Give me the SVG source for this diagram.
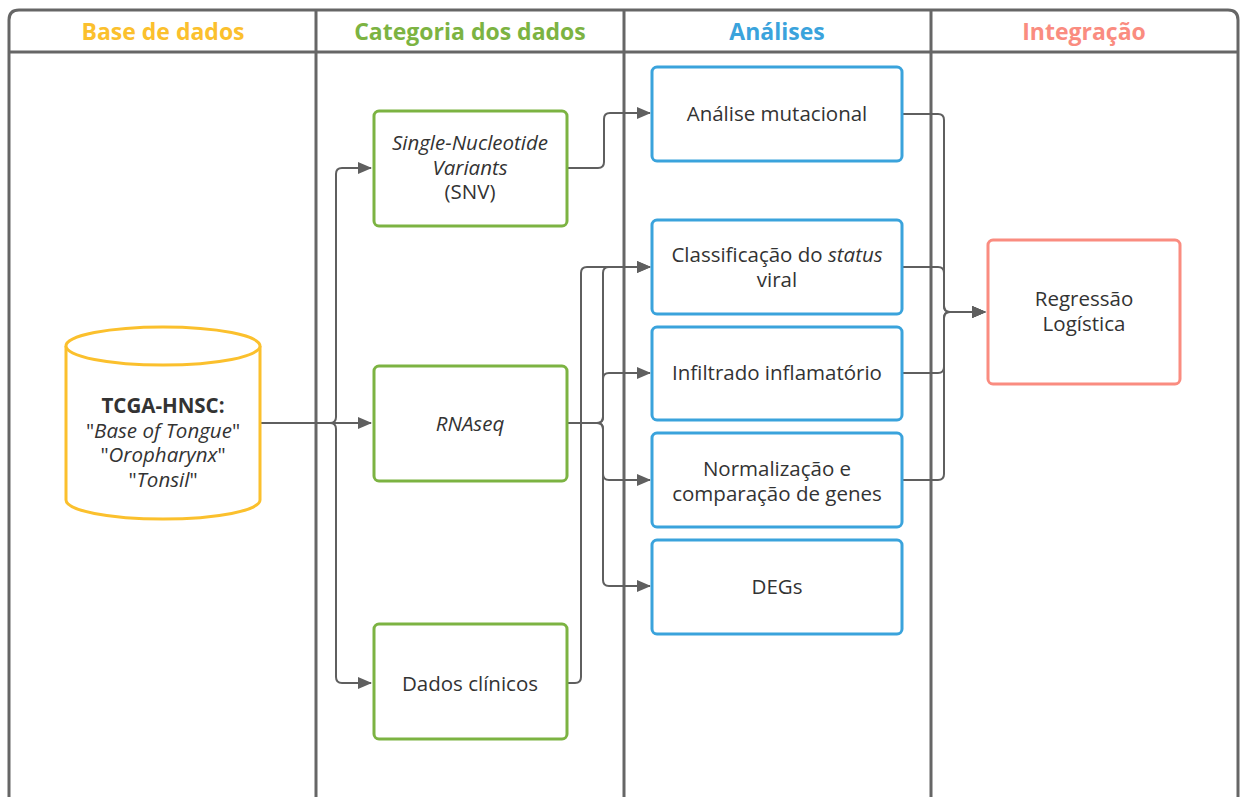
<svg xmlns="http://www.w3.org/2000/svg" width="1240" height="797" viewBox="0 0 1240 797">
  <style>
    .frame { fill: none; stroke: #666666; stroke-width: 3; }
    .hdr { font-family: "Open Sans", "Liberation Sans", sans-serif; font-weight: 700; font-size: 23px; text-anchor: middle; }
    .lbl { font-family: "Open Sans", "Liberation Sans", sans-serif; font-size: 20.5px; fill: #333333; text-anchor: middle; }
    .it { font-style: italic; }
    .bold { font-weight: 700; }
    .box { fill: #ffffff; stroke-width: 3; }
    .green { stroke: #7cb342; }
    .blue { stroke: #3aa3dc; }
    .salmon { stroke: #fa8c80; }
    .conn { fill: none; stroke: #5f5f5f; stroke-width: 2; }
  </style>
  <defs>
    <marker id="arrow" markerUnits="userSpaceOnUse" markerWidth="14" markerHeight="12" refX="13" refY="6" orient="auto">
      <path d="M0,0 L14,6 L0,12 z" fill="#5f5f5f"/>
    </marker>
  </defs>

  <rect width="1240" height="797" fill="#ffffff"/>

  <!-- swimlane frame -->
  <g id="lanes">
    <path class="frame" d="M9,800 V20 Q9,10 19,10 H1228 Q1238,10 1238,20 V800"/>
    <line class="frame" x1="9" y1="52" x2="1238" y2="52"/>
    <line class="frame" x1="316" y1="10" x2="316" y2="800"/>
    <line class="frame" x1="624" y1="10" x2="624" y2="800"/>
    <line class="frame" x1="931" y1="10" x2="931" y2="800"/>
    <text class="hdr" x="163" y="40" fill="#fbc02d">Base de dados</text>
    <text class="hdr" x="470" y="40" fill="#7cb342">Categoria dos dados</text>
    <text class="hdr" x="777" y="40" fill="#3aa3dc">Análises</text>
    <text class="hdr" x="1084" y="40" fill="#fa8c80">Integração</text>
  </g>

  <!-- connectors -->
  <g id="connectors">
    <path class="conn" d="M260,423 H371" marker-end="url(#arrow)"/>
    <path class="conn" d="M330,423 Q336,423 336,417 V174 Q336,168 342,168 H371" marker-end="url(#arrow)"/>
    <path class="conn" d="M330,423 Q336,423 336,429 V677 Q336,683 342,683 H371" marker-end="url(#arrow)"/>

    <path class="conn" d="M567,168 H598 Q604,168 604,162 V119 Q604,113 610,113 H650" marker-end="url(#arrow)"/>

    <path class="conn" d="M567,423 H597 Q603,423 603,417 V273 Q603,267 609,267 H650" marker-end="url(#arrow)"/>
    <path class="conn" d="M597,423 Q603,423 603,417 V379 Q603,373 609,373 H650" marker-end="url(#arrow)"/>
    <path class="conn" d="M597,423 Q603,423 603,429 V474 Q603,480 609,480 H650" marker-end="url(#arrow)"/>
    <path class="conn" d="M597,423 Q603,423 603,429 V580 Q603,586 609,586 H650" marker-end="url(#arrow)"/>

    <path class="conn" d="M567,683 H575 Q581,683 581,677 V273 Q581,267 587,267 H650" marker-end="url(#arrow)"/>

    <path class="conn" d="M902,114 H938 Q944,114 944,120 V306 Q944,312 950,312 H985" marker-end="url(#arrow)"/>
    <path class="conn" d="M902,267 H938 Q944,267 944,273 V306 Q944,312 950,312 H985" marker-end="url(#arrow)"/>
    <path class="conn" d="M902,373 H938 Q944,373 944,367 V318 Q944,312 950,312 H985" marker-end="url(#arrow)"/>
    <path class="conn" d="M902,480 H938 Q944,480 944,474 V318 Q944,312 950,312 H985" marker-end="url(#arrow)"/>
  </g>

  <!-- database -->
  <g id="tcga">
    <path d="M66,346 V500 A97,19 0 0 0 260,500 V346" fill="#ffffff" stroke="#fbc02d" stroke-width="3"/>
    <ellipse cx="163" cy="346" rx="97" ry="19" fill="#ffffff" stroke="#fbc02d" stroke-width="3"/>
    <text class="lbl" x="163" y="413"><tspan class="bold">TCGA-HNSC:</tspan><tspan x="163" dy="25">"</tspan><tspan class="it">Base of Tongue</tspan><tspan>"</tspan><tspan x="163" dy="24">"</tspan><tspan class="it">Oropharynx</tspan><tspan>"</tspan><tspan x="163" dy="25">"</tspan><tspan class="it">Tonsil</tspan><tspan>"</tspan></text>
  </g>

  <!-- data categories -->
  <g id="snv">
    <rect class="box green" x="374" y="111" width="193" height="115" rx="5"/>
    <text class="lbl" x="470" y="150"><tspan class="it">Single-Nucleotide</tspan><tspan class="it" x="470" dy="25">Variants</tspan><tspan x="470" dy="24">(SNV)</tspan></text>
  </g>
  <g id="rnaseq">
    <rect class="box green" x="374" y="366" width="193" height="115" rx="5"/>
    <text class="lbl it" x="470" y="431">RNAseq</text>
  </g>
  <g id="clinicos">
    <rect class="box green" x="374" y="624" width="193" height="115" rx="5"/>
    <text class="lbl" x="470" y="691">Dados clínicos</text>
  </g>

  <!-- analyses -->
  <g id="mutacional">
    <rect class="box blue" x="652" y="67" width="250" height="94" rx="5"/>
    <text class="lbl" x="777" y="121">Análise mutacional</text>
  </g>
  <g id="status-viral">
    <rect class="box blue" x="652" y="220" width="250" height="94" rx="5"/>
    <text class="lbl" x="777" y="262">Classificação do <tspan class="it">status</tspan><tspan x="777" dy="25">viral</tspan></text>
  </g>
  <g id="infiltrado">
    <rect class="box blue" x="652" y="327" width="250" height="93" rx="5"/>
    <text class="lbl" x="777" y="380">Infiltrado inflamatório</text>
  </g>
  <g id="normalizacao">
    <rect class="box blue" x="652" y="433" width="250" height="94" rx="5"/>
    <text class="lbl" x="777" y="476">Normalização e<tspan x="777" dy="25">comparação de genes</tspan></text>
  </g>
  <g id="degs">
    <rect class="box blue" x="652" y="540" width="250" height="94" rx="5"/>
    <text class="lbl" x="777" y="594">DEGs</text>
  </g>

  <!-- integration -->
  <g id="regressao">
    <rect class="box salmon" x="988" y="240" width="192" height="144" rx="5"/>
    <text class="lbl" x="1084" y="306">Regressão<tspan x="1084" dy="25">Logística</tspan></text>
  </g>
</svg>
